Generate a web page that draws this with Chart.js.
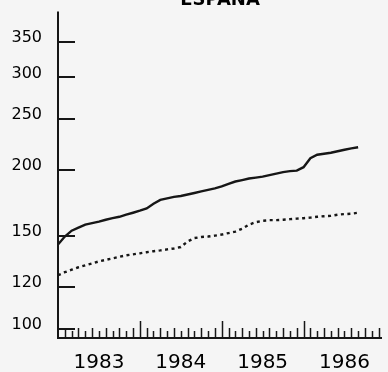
<!DOCTYPE html>
<html>
<head>
<meta charset="utf-8">
<script src="https://cdn.jsdelivr.net/npm/chart.js@4.4.1/dist/chart.umd.min.js"></script>
<style>
  html, body { margin: 0; padding: 0; background: #f5f5f5; overflow: hidden; }
  #wrap { position: absolute; left: 0; top: -20px; width: 388px; height: 392px; }
</style>
</head>
<body>
<div id="wrap"><canvas id="espana"></canvas></div>
<script>
// data: monthly values from Jan 1983
const years = ['1983', '1984', '1985', '1986'];
const yTicks = [100, 120, 150, 200, 250, 300, 350];

const solidLine = [
  144.5, 149.6, 153.5, 155.5, 157.6, 158.6, 159.7, 161, 162.1, 163.1, 164.6, 166,
  167.5, 169.2, 172.6, 175.6, 176.8, 177.9, 178.6, 179.8, 181, 182.2, 183.4, 184.6,
  186.2, 188.3, 190.3, 191.5, 192.8, 193.6, 194.4, 195.7, 197, 198.3, 199.1, 199.6,
  202.6, 210.7, 213.9, 214.8, 215.8, 217.2, 218.6, 220, 221
];
const dottedLine = [
  126.3, 128, 129.4, 130.8, 131.9, 133, 134.2, 135.1, 136, 136.9, 137.8, 138.4,
  139, 139.7, 140.3, 140.8, 141.4, 142, 142.9, 146.4, 148.6, 149.3, 149.6, 150.2,
  150.9, 151.9, 152.9, 154.8, 157.6, 159.3, 160.3, 160.7, 160.7, 161, 161.4, 161.8,
  162.1, 162.5, 163.1, 163.5, 163.8, 164.6, 165, 165.3, 166
];

const ink = '#161616';
const face = 'DejaVu Sans, Verdana, sans-serif';

// axis lines and the little tick marks drawn inside the plot
const axisMarks = {
  id: 'axisMarks',
  afterDatasetsDraw(chart) {
    const ctx = chart.ctx;
    const xs = chart.scales.x;
    const ys = chart.scales.y;
    const area = chart.chartArea;
    ctx.save();
    ctx.strokeStyle = ink;
    ctx.lineWidth = 2;
    ctx.beginPath();
    ctx.moveTo(area.left, area.top);
    ctx.lineTo(area.left, area.bottom);
    ctx.lineTo(area.right, area.bottom);
    ctx.stroke();

    yTicks.forEach(v => {
      const py = Math.round(ys.getPixelForValue(v));
      ctx.beginPath();
      ctx.moveTo(area.left, py);
      ctx.lineTo(area.left + 17, py);
      ctx.stroke();
    });

    ctx.lineWidth = 1.5;
    for (let m = 1; m < years.length * 12; m++) {
      const px = Math.round(xs.getPixelForValue(m)) + 0.5;
      let len = m % 2 ? 10 : 7;
      if (m % 12 === 0) len = 17;
      ctx.beginPath();
      ctx.moveTo(px, area.bottom);
      ctx.lineTo(px, area.bottom - len);
      ctx.stroke();
    }
    ctx.restore();
  }
};

new Chart(document.getElementById('espana'), {
  type: 'line',
  data: {
    datasets: [
      {
        data: solidLine.map((v, i) => ({ x: i, y: v })),
        borderColor: ink,
        borderWidth: 2.4,
        pointRadius: 0,
        tension: 0
      },
      {
        data: dottedLine.map((v, i) => ({ x: i, y: v })),
        borderColor: ink,
        borderWidth: 2.4,
        borderDash: [3, 3.5],
        pointRadius: 0,
        tension: 0
      }
    ]
  },
  options: {
    responsive: true,
    maintainAspectRatio: false,
    animation: false,
    layout: { padding: { left: 0, right: 6, top: 0, bottom: 0 } },
    plugins: {
      legend: { display: false },
      tooltip: { enabled: false },
      title: {
        display: true,
        text: 'ESPANA',
        fullSize: false,
        color: '#000',
        font: { family: face, size: 18, weight: 'bold' },
        padding: { top: 10, bottom: 0 }
      }
    },
    scales: {
      x: {
        type: 'linear',
        min: 0,
        max: 47.5,
        border: { display: false },
        grid: { display: false, drawTicks: false },
        afterBuildTicks: s => { s.ticks = years.map((y, i) => ({ value: i * 12 + 6 })); },
        afterFit: s => { s.height = 34; },
        ticks: {
          autoSkip: false,
          maxRotation: 0,
          padding: 13,
          color: '#000',
          font: { family: face, size: 20 },
          callback: v => years[Math.floor(v / 12)]
        }
      },
      y: {
        type: 'logarithmic',
        min: 96,
        max: 400,
        border: { display: false },
        grid: { display: false, drawTicks: false },
        afterBuildTicks: s => { s.ticks = yTicks.map(v => ({ value: v })); },
        afterFit: s => { s.width = 58; },
        ticks: {
          padding: 16,
          labelOffset: -4,
          color: '#000',
          font: { family: face, size: 16 },
          callback: v => String(v)
        }
      }
    }
  },
  plugins: [axisMarks]
});
</script>
</body>
</html>
